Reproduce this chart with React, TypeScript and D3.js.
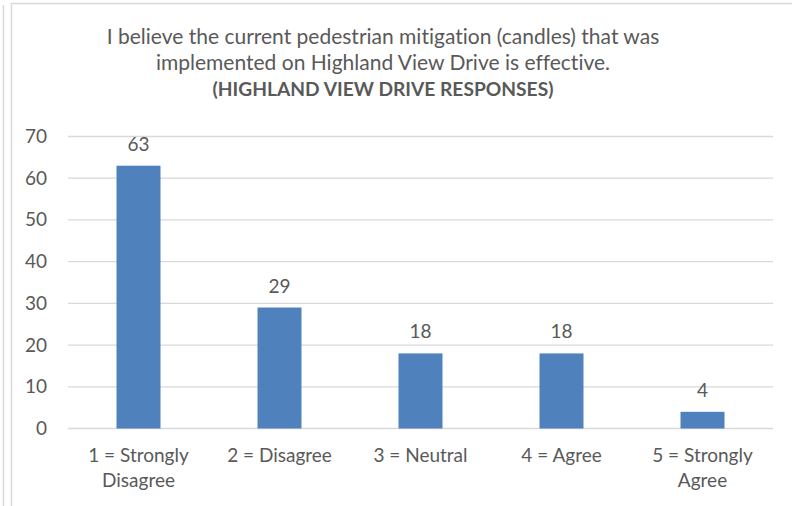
import React from "react";
import * as d3 from "d3";

const categories: string[][] = [
  ["1 = Strongly", "Disagree"],
  ["2 = Disagree"],
  ["3 = Neutral"],
  ["4 = Agree"],
  ["5 = Strongly", "Agree"],
];
const values: number[] = [63, 29, 18, 18, 4];
const yTicks: number[] = [0, 10, 20, 30, 40, 50, 60, 70];
const titleLines: string[] = [
  "I believe the current pedestrian mitigation (candles) that was",
  "implemented on Highland View Drive is effective.",
];
const titleBold = "(HIGHLAND VIEW DRIVE RESPONSES)";

const W = 792;
const H = 506;
const FONT = "Lato, 'Open Sans', sans-serif";
const TEXT = "#595959";

export default function App() {
  const x = d3
    .scaleBand<number>()
    .domain(d3.range(values.length))
    .range([68, 773])
    .paddingInner(0)
    .paddingOuter(0);
  const y = d3.scaleLinear().domain([0, 70]).range([428.5, 136.5]);
  const barW = x.bandwidth() * 0.312;

  return (
    <svg
      width={W}
      height={H}
      style={{ position: "absolute", left: 0, top: 0, background: "#fff", fontVariantLigatures: "none" }}
      fontFamily={FONT}
    >
      <rect x={0} y={0} width={W} height={H} fill="#fff" />
      <line x1={3.5} y1={5} x2={3.5} y2={H} stroke="#d9d9d9" strokeWidth={1.5} />
      <path d={`M11.5,${H} V3.5 H${W}`} fill="none" stroke="#d9d9d9" strokeWidth={1.5} />

      {titleLines.map((t, i) => (
        <text key={i} x={383} y={43.5 + i * 26} textAnchor="middle" fontSize={21} fill={TEXT}>
          {t}
        </text>
      ))}
      <text x={383} y={96} textAnchor="middle" fontSize={19.2} fontWeight="bold" fill={TEXT}>
        {titleBold}
      </text>

      {yTicks.map((t) => (
        <g key={t}>
          <line x1={68} x2={773} y1={y(t)} y2={y(t)} stroke="#d9d9d9" strokeWidth={1.3} />
          <text x={47} y={y(t) + 6.5} textAnchor="end" fontSize={19} fill={TEXT}>
            {t}
          </text>
        </g>
      ))}

      {values.map((v, i) => {
        const cx = (x(i) as number) + x.bandwidth() / 2;
        return (
          <g key={i}>
            <rect x={cx - barW / 2} y={y(v)} width={barW} height={y(0) - y(v)} fill="#4F81BD" />
            <text x={cx} y={y(v) - 15} textAnchor="middle" fontSize={19} fill={TEXT}>
              {v}
            </text>
            {categories[i].map((line, j) => (
              <text key={j} x={cx} y={462 + j * 25} textAnchor="middle" fontSize={19} fill={TEXT}>
                {line}
              </text>
            ))}
          </g>
        );
      })}
    </svg>
  );
}
